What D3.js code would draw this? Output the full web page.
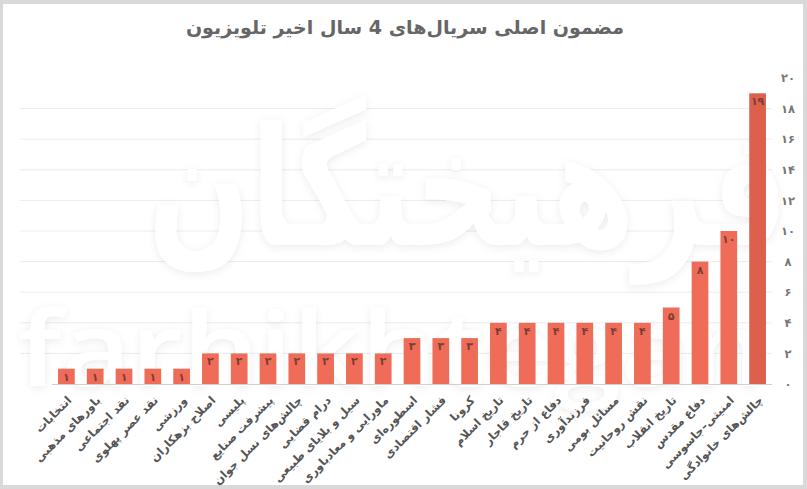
<!DOCTYPE html>
<html>
<head>
<meta charset="utf-8">
<script src="https://cdn.jsdelivr.net/npm/d3@7/dist/d3.min.js"></script>
<style>
  html, body { margin: 0; padding: 0; background: #fff; }
  svg { display: block; font-family: "DejaVu Sans", sans-serif; }
</style>
</head>
<body>
<svg id="chart" width="807" height="489"></svg>
<script>
const title = "مضمون اصلی سریال‌های 4 سال اخیر تلویزیون";
const categories = ["انتخابات","باورهای مذهبی","نقد اجتماعی","نقد عصر پهلوی","ورزشی",
  "اصلاح بزهکاران","پلیسی","پیشرفت صنایع","چالش‌های نسل جوان","درام قضایی",
  "سیل و بلایای طبیعی","ماورایی و معادباوری","اسطوره‌ای","فشار اقتصادی","کرونا",
  "تاریخ اسلام","تاریخ قاجار","دفاع از حرم","فرزندآوری","مسائل بومی","نقش روحانیت",
  "تاریخ انقلاب","دفاع مقدس","امنیتی–جاسوسی","چالش‌های خانوادگی"];
const values = [1,1,1,1,1,2,2,2,2,2,2,2,3,3,3,4,4,4,4,4,4,5,8,10,19];
const yTicks = [0,2,4,6,8,10,12,14,16,18,20];
const watermarkFa = "فرهیختگان";
const watermarkEn = "farhikhtegan";

const faDigits = "۰۱۲۳۴۵۶۷۸۹";
const toFa = n => String(n).replace(/\d/g, d => faDigits[+d]);

const svg = d3.select("#chart");
const W = 807, H = 489;

const defs = svg.append("defs");
const f = defs.append("filter").attr("id", "wmShadow")
  .attr("x", "-10%").attr("y", "-20%").attr("width", "120%").attr("height", "140%");
f.append("feDropShadow").attr("dx", 0).attr("dy", 2).attr("stdDeviation", 4)
  .attr("flood-color", "#000").attr("flood-opacity", 0.08);

// frame
svg.append("rect").attr("x",0).attr("y",0).attr("width",W).attr("height",H).attr("fill","#d9d9d9");
svg.append("rect").attr("x",3).attr("y",4).attr("width",800).attr("height",481).attr("fill","#fff");

const x = d3.scaleBand().domain(categories).range([52, 772]).paddingInner(0.42).paddingOuter(0.21);
const y = d3.scaleLinear().domain([0, 20]).range([384, 78]);

// gridlines
svg.append("g").selectAll("line").data(yTicks.filter(t => t > 0 && t < 20)).join("line")
  .attr("x1", 20).attr("x2", 772)
  .attr("y1", d => y(d)).attr("y2", d => y(d))
  .attr("stroke", "#ececec").attr("stroke-width", 1);

// watermark
const wm = svg.append("g").attr("filter", "url(#wmShadow)").attr("fill", "#fff");
wm.append("text").attr("x", 788).attr("y", 245)
  .attr("text-anchor", "end").attr("font-size", 165).attr("font-weight", "bold")
  .attr("font-family", "DejaVu Sans, sans-serif")
  .attr("textLength", 640).attr("lengthAdjust", "spacingAndGlyphs")
  .text(watermarkFa);
wm.append("text").attr("x", 18).attr("y", 386)
  .attr("font-size", 104).attr("font-weight", 600)
  .attr("font-family", "Open Sans, sans-serif")
  .attr("textLength", 748).attr("lengthAdjust", "spacingAndGlyphs")
  .text(watermarkEn);

// baseline
svg.append("line").attr("x1", 52).attr("x2", 772).attr("y1", y(0)+0.5).attr("y2", y(0)+0.5)
  .attr("stroke", "#d0d0d0").attr("stroke-width", 1);

// bars
svg.append("g").selectAll("rect").data(values).join("rect")
  .attr("x", (d,i) => x(categories[i]))
  .attr("width", x.bandwidth())
  .attr("y", d => y(d))
  .attr("height", d => y(0) - y(d))
  .attr("fill", (d,i) => i === values.length - 1 ? "#dc604c" : "#ef6c58");

// value labels
svg.append("g").selectAll("text").data(values).join("text")
  .attr("x", (d,i) => x(categories[i]) + x.bandwidth()/2)
  .attr("y", d => y(d) + 12)
  .attr("text-anchor", "middle")
  .attr("font-size", 11).attr("font-weight", "bold")
  .attr("fill", "#7a3e35")
  .text(d => toFa(d));

// y axis on right
const yAxis = d3.axisRight(y).tickValues(yTicks).tickSize(0).tickFormat(toFa);
const ga = svg.append("g").attr("transform", "translate(780,0)").call(yAxis);
ga.select(".domain").remove();
ga.selectAll("text").attr("x", 8).attr("text-anchor", "middle")
  .attr("font-size", 11.5).attr("font-weight", "bold").attr("fill", "#777")
  .attr("font-family", "DejaVu Sans, sans-serif");

// x labels
const xAxis = d3.axisBottom(x).tickSize(0);
const gx = svg.append("g").attr("transform", "translate(0,384)").call(xAxis);
gx.select(".domain").remove();
gx.selectAll(".tick text")
  .attr("font-size", 11.5).attr("font-weight", "bold").attr("fill", "#555")
  .attr("font-family", "DejaVu Sans, sans-serif")
  .attr("text-anchor", "end")
  .attr("dy", 0)
  .attr("y", 0)
  .attr("transform", "translate(6,17) rotate(-45)");

// title
svg.append("text").attr("x", 405).attr("y", 34)
  .attr("text-anchor", "middle").attr("font-size", 19).attr("font-weight", "bold")
  .attr("fill", "#666").text(title);
</script>
</body>
</html>
